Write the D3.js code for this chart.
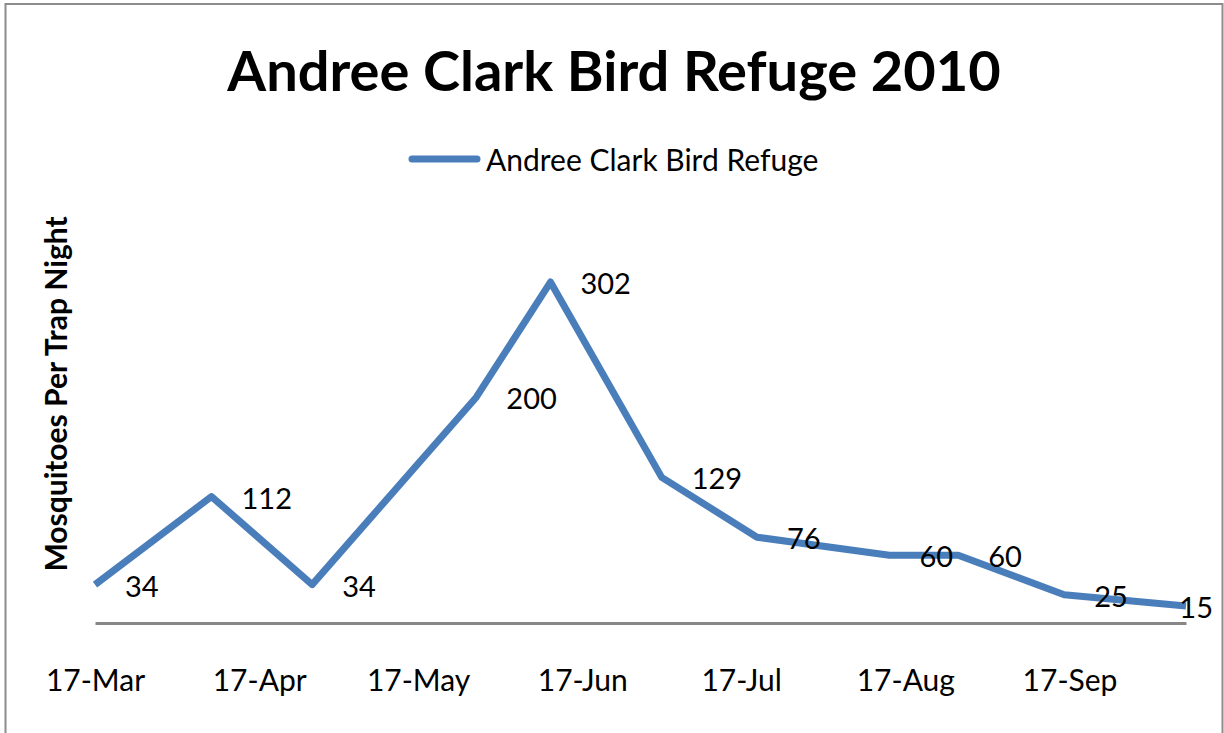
<!DOCTYPE html>
<html>
<meta charset="utf-8">
<script src="https://d3js.org/d3.v7.min.js"></script>
<style>
  body { margin: 0; background: #fff; }
  text { font-family: Lato, "Open Sans", sans-serif; fill: #000; }
</style>
<body>
<div id="my_dataviz"></div>
<script>
    // data
    const dates = ["2010-03-17", "2010-04-08", "2010-04-27", "2010-05-28", "2010-06-11",
                   "2010-07-02", "2010-07-20", "2010-08-14", "2010-08-27", "2010-09-16", "2010-10-09"];
    const counts = [34, 112, 34, 200, 302, 129, 76, 60, 60, 25, 15];
    const tickDates = ["2010-03-17", "2010-04-17", "2010-05-17", "2010-06-17",
                       "2010-07-17", "2010-08-17", "2010-09-17"];
    const seriesName = "Andree Clark Bird Refuge";

    const W = 1224, H = 733;
    const parse = d3.timeParse("%Y-%m-%d");
    const data = dates.map(function(d, i) { return {date: parse(d), value: counts[i]}; });

    const svg = d3.select("#my_dataviz")
      .append("svg")
      .attr("width", W)
      .attr("height", H);

    // outer frame
    svg.append("rect")
      .attr("x", 5.5).attr("y", 4)
      .attr("width", 1217).attr("height", 745)
      .attr("fill", "none")
      .attr("stroke", "#8c8c8c")
      .attr("stroke-width", 2);

    // scales
    const x = d3.scaleTime()
      .domain([parse("2010-03-17"), parse("2010-10-09")])
      .range([95, 1186]);
    const y = d3.scaleLinear()
      .domain([0, 350])
      .range([623, 623 - 350 * 1.129]);

    // title
    svg.append("text")
      .attr("x", 614)
      .attr("y", 91)
      .attr("text-anchor", "middle")
      .style("font-size", "56px")
      .style("font-weight", "bold")
      .text("Andree Clark Bird Refuge 2010");

    // legend
    svg.append("line")
      .attr("x1", 412).attr("x2", 477)
      .attr("y1", 159).attr("y2", 159)
      .attr("stroke", "#4a7ebb")
      .attr("stroke-width", 7)
      .attr("stroke-linecap", "round");
    svg.append("text")
      .attr("x", 486)
      .attr("y", 171)
      .style("font-size", "30px")
      .text(seriesName);

    // y axis title
    svg.append("text")
      .attr("transform", "translate(67,394) rotate(-90)")
      .attr("text-anchor", "middle")
      .style("font-size", "30px")
      .style("font-weight", "bold")
      .text("Mosquitoes Per Trap Night");

    // x axis
    const xAxis = svg.append("g")
      .attr("transform", "translate(0," + y(0) + ")")
      .call(d3.axisBottom(x)
        .tickValues(tickDates.map(parse))
        .tickFormat(d3.timeFormat("%-d-%b"))
        .tickSize(0)
        .tickSizeOuter(0));
    xAxis.select(".domain")
      .attr("stroke", "#878787")
      .attr("stroke-width", 3);
    xAxis.selectAll("text")
      .attr("y", 68)
      .attr("dy", 0)
      .style("font-family", "Lato, sans-serif")
      .style("font-size", "30px")
      .attr("fill", "#000");

    // the line
    const line = d3.line()
      .x(function(d) { return x(d.date); })
      .y(function(d) { return y(d.value); });
    svg.append("path")
      .datum(data)
      .attr("d", line)
      .attr("fill", "none")
      .attr("stroke", "#4a7ebb")
      .attr("stroke-width", 7)
      .attr("stroke-linejoin", "round");

    // data labels, to the right of each point, kept inside the frame
    svg.selectAll(".dlabel")
      .data(data)
      .enter()
      .append("text")
      .attr("class", "dlabel")
      .attr("y", function(d) { return y(d.value) + 12; })
      .style("font-size", "29px")
      .text(function(d) { return d.value; })
      .attr("x", function(d) {
        const w = this.getComputedTextLength();
        return Math.min(x(d.date) + 30, 1213 - w);
      });
</script>
</body>
</html>
